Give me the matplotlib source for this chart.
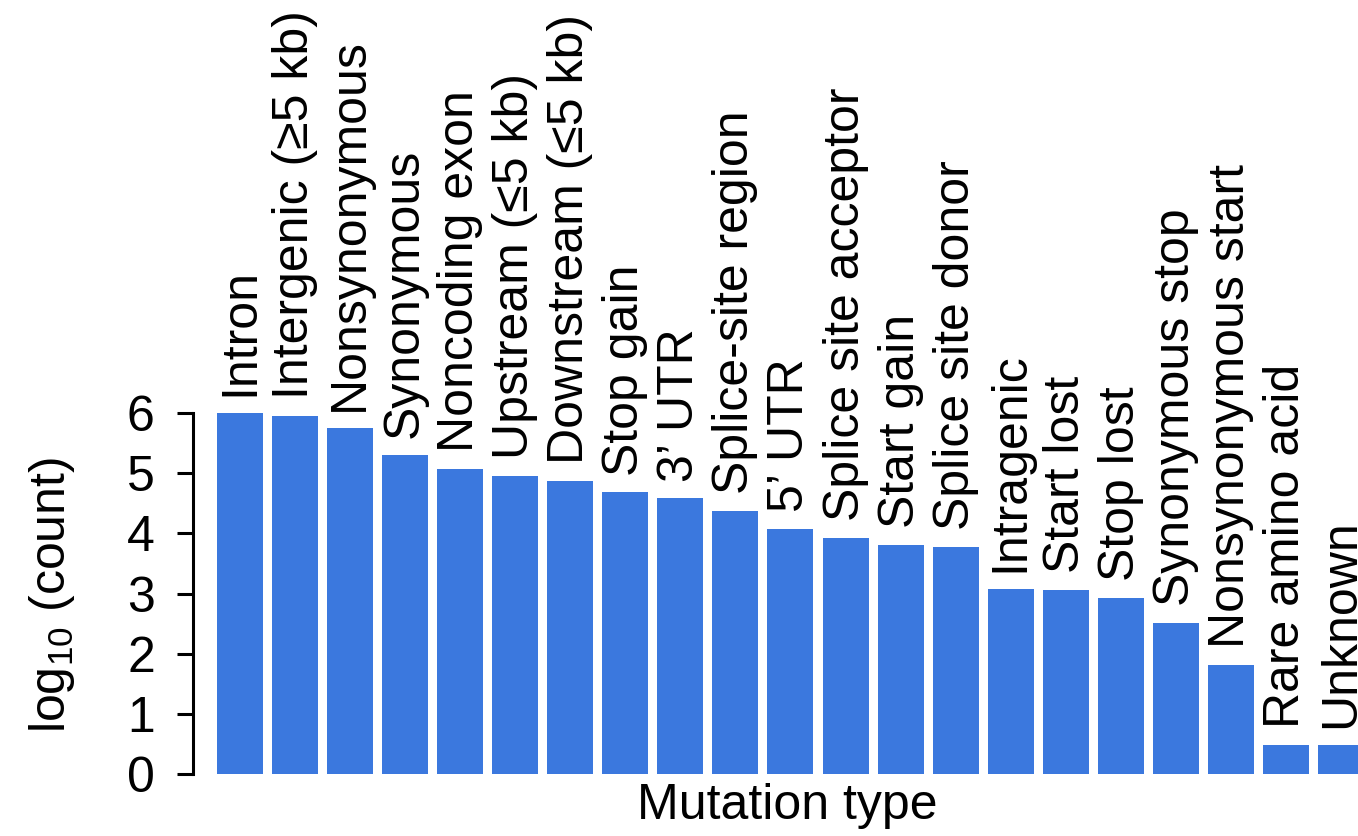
import matplotlib
matplotlib.use('Agg')
import matplotlib.pyplot as plt

plt.rcParams['font.family'] = ['Liberation Sans', 'DejaVu Sans']
plt.rcParams['mathtext.fontset'] = 'custom'
plt.rcParams['mathtext.rm'] = 'Liberation Sans'
plt.rcParams['mathtext.it'] = 'Liberation Sans'

mutation_types = ['Intron', 'Intergenic (\u22655 kb)', 'Nonsynonymous', 'Synonymous',
                  'Noncoding exon', 'Upstream (\u22645 kb)', 'Downstream (\u22645 kb)',
                  'Stop gain', '3\u2019 UTR', 'Splice-site region', '5\u2019 UTR',
                  'Splice site acceptor', 'Start gain', 'Splice site donor', 'Intragenic',
                  'Start lost', 'Stop lost', 'Synonymous stop', 'Nonsynonymous start',
                  'Rare amino acid', 'Unknown']
log_counts = [6.0, 5.95, 5.75, 5.3, 5.07, 4.95, 4.87, 4.68, 4.58, 4.37, 4.08,
              3.93, 3.81, 3.78, 3.08, 3.06, 2.93, 2.51, 1.81, 0.49, 0.49]
yticks = [0, 1, 2, 3, 4, 5, 6]

bar_color = '#3b78de'
fs = 36

fig = plt.figure(figsize=(13.58, 8.36), dpi=100)
ax = fig.add_axes([193/1358, 1-774/836, 1-193/1358, (774-413)/836])

x = list(range(len(mutation_types)))
ax.bar(x, log_counts, width=0.836, color=bar_color)
for xi, v, lab in zip(x, log_counts, mutation_types):
    ax.text(xi, v + 0.28, lab, rotation=90, ha='center', va='bottom',
            fontsize=fs, clip_on=False)

ax.set_xlim(-0.854, 20.31)
ax.set_ylim(0, 6)
ax.set_yticks(yticks)
ax.set_xticks([])
for s in ['top', 'right', 'bottom']:
    ax.spines[s].set_visible(False)
ax.spines['left'].set_linewidth(2.2)
ax.spines['left'].set_bounds(0, 6)
ax.tick_params(axis='y', labelsize=fs, length=11.5, width=2.2, pad=16)

fig.text(52/1358, 1-595/836, r'log$_{10}$ (count)', rotation=90,
         ha='center', va='center', fontsize=fs)
fig.text(787/1358, 1-806/836, 'Mutation type', ha='center', va='center', fontsize=fs)

fig.savefig('out.png', dpi=100)
